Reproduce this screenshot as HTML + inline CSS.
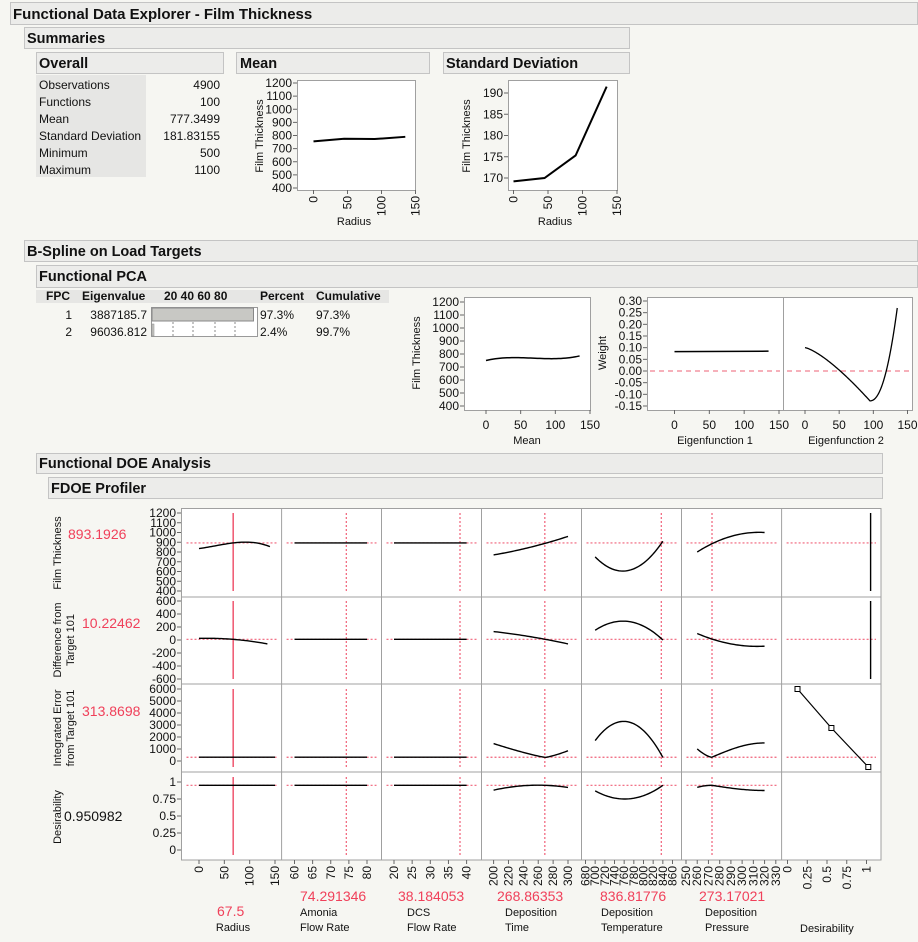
<!DOCTYPE html>
<html><head><meta charset="utf-8"><style>
html,body{margin:0;padding:0;background:#f6f6f2;}
svg{display:block;font-family:"Liberation Sans",sans-serif;}
</style></head><body>
<svg id="s" width="918" height="942" viewBox="0 0 918 942" xmlns="http://www.w3.org/2000/svg">
<rect width="918" height="942" fill="#f6f6f2"/>
<rect x="10.5" y="2.5" width="907" height="22" fill="#ececea" stroke="#c4c4c4"/>
<text x="13" y="19" font-size="15" font-weight="bold" fill="#111">Functional Data Explorer - Film Thickness</text>
<rect x="24.5" y="27.5" width="605" height="21" fill="#ececea" stroke="#c4c4c4"/>
<text x="27" y="43" font-size="14.5" font-weight="bold" fill="#111">Summaries</text>
<rect x="36.5" y="52.5" width="187" height="21" fill="#ececea" stroke="#c4c4c4"/>
<text x="39" y="68" font-size="14.5" font-weight="bold" fill="#111">Overall</text>
<rect x="236.5" y="52.5" width="193" height="21" fill="#ececea" stroke="#c4c4c4"/>
<text x="240" y="68" font-size="14.5" font-weight="bold" fill="#111">Mean</text>
<rect x="443.5" y="52.5" width="186" height="21" fill="#ececea" stroke="#c4c4c4"/>
<text x="446" y="68" font-size="14.5" font-weight="bold" fill="#111">Standard Deviation</text>
<rect x="36" y="75" width="110" height="102" fill="#e6e6e4"/>
<g font-size="12" fill="#111">
<text x="39" y="89">Observations</text><text x="220" y="89" text-anchor="end">4900</text>
<text x="39" y="106">Functions</text><text x="220" y="106" text-anchor="end">100</text>
<text x="39" y="123">Mean</text><text x="220" y="123" text-anchor="end">777.3499</text>
<text x="39" y="140">Standard Deviation</text><text x="220" y="140" text-anchor="end">181.83155</text>
<text x="39" y="157">Minimum</text><text x="220" y="157" text-anchor="end">500</text>
<text x="39" y="174">Maximum</text><text x="220" y="174" text-anchor="end">1100</text>
</g>
<rect x="24.5" y="240.5" width="893" height="21" fill="#ececea" stroke="#c4c4c4"/>
<text x="27" y="256" font-size="14.5" font-weight="bold" fill="#111">B-Spline on Load Targets</text>
<rect x="36.5" y="265.5" width="881" height="22" fill="#ececea" stroke="#c4c4c4"/>
<text x="39" y="281" font-size="14.5" font-weight="bold" fill="#111">Functional PCA</text>
<rect x="36" y="290" width="353" height="13" fill="#e6e6e4"/>
<g font-size="12" fill="#111">
<text x="46" y="300" font-weight="bold">FPC</text>
<text x="82" y="300" font-weight="bold">Eigenvalue</text>
<text x="164" y="300" font-weight="bold">20 40 60 80</text>
<text x="260" y="300" font-weight="bold">Percent</text>
<text x="316" y="300" font-weight="bold">Cumulative</text>
<text x="72" y="319" text-anchor="end">1</text><text x="147" y="319" text-anchor="end">3887185.7</text>
<text x="72" y="336" text-anchor="end">2</text><text x="147" y="336" text-anchor="end">96036.812</text>
<text x="260" y="319">97.3%</text><text x="316" y="319">97.3%</text>
<text x="260" y="336">2.4%</text><text x="316" y="336">99.7%</text>
</g>
<rect x="151.5" y="307.5" width="106" height="29" fill="#fff" stroke="#999"/>
<rect x="152" y="308" width="101.5" height="13" fill="#c8c8c4" stroke="#888"/>
<rect x="152" y="324" width="2" height="12" fill="#c8c8c4" stroke="#888" stroke-width="0.5"/>
<g stroke="#888" stroke-dasharray="2,2"><line x1="173" y1="322" x2="173" y2="336"/><line x1="193" y1="322" x2="193" y2="336"/><line x1="215" y1="322" x2="215" y2="336"/><line x1="235" y1="322" x2="235" y2="336"/></g>
<rect x="36.5" y="453.5" width="846" height="20" fill="#ececea" stroke="#c4c4c4"/>
<text x="39" y="468" font-size="14.5" font-weight="bold" fill="#111">Functional DOE Analysis</text>
<rect x="48.5" y="477.5" width="834" height="21" fill="#ececea" stroke="#c4c4c4"/>
<text x="51" y="493" font-size="14.5" font-weight="bold" fill="#111">FDOE Profiler</text>
<g id="g"></g>
<g font-size="11" fill="#111">
<text transform="translate(263,136) rotate(-90)" text-anchor="middle">Film Thickness</text>
<text x="354" y="225" text-anchor="middle">Radius</text>
<text transform="translate(470,136) rotate(-90)" text-anchor="middle">Film Thickness</text>
<text x="555" y="225" text-anchor="middle">Radius</text>
<text transform="translate(420,353) rotate(-90)" text-anchor="middle">Film Thickness</text>
<text x="527" y="444" text-anchor="middle">Mean</text>
<text transform="translate(606,353) rotate(-90)" text-anchor="middle">Weight</text>
<text x="715" y="444" text-anchor="middle">Eigenfunction 1</text>
<text x="846" y="444" text-anchor="middle">Eigenfunction 2</text>
<text transform="translate(61,553) rotate(-90)" text-anchor="middle">Film Thickness</text>
<text transform="translate(61,640) rotate(-90)" text-anchor="middle">Difference from</text>
<text transform="translate(74,640) rotate(-90)" text-anchor="middle">Target 101</text>
<text transform="translate(61,728) rotate(-90)" text-anchor="middle">Integrated Error</text>
<text transform="translate(74,728) rotate(-90)" text-anchor="middle">from Target 101</text>
<text transform="translate(61,817) rotate(-90)" text-anchor="middle">Desirability</text>
<text x="233" y="931" text-anchor="middle">Radius</text>
<text x="300" y="916">Amonia</text><text x="300" y="931">Flow Rate</text>
<text x="407" y="916">DCS</text><text x="407" y="931">Flow Rate</text>
<text x="505" y="916">Deposition</text><text x="505" y="931">Time</text>
<text x="601" y="916">Deposition</text><text x="601" y="931">Temperature</text>
<text x="705" y="916">Deposition</text><text x="705" y="931">Pressure</text>
<text x="800" y="932">Desirability</text>
</g>
<g font-size="14" fill="#f0405a">
<text x="68" y="539">893.1926</text>
<text x="82" y="628">10.22462</text>
<text x="82" y="716">313.8698</text>
<text x="217" y="916">67.5</text>
<text x="300" y="901">74.291346</text>
<text x="398" y="901">38.184053</text>
<text x="497" y="901">268.86353</text>
<text x="600" y="901">836.81776</text>
<text x="699" y="901">273.17021</text>
</g>
<text x="64" y="821" font-size="14" fill="#111">0.950982</text>
</svg>
<script>
const g=document.getElementById('g');const NS='http://www.w3.org/2000/svg';
function el(t,a,txt){const e=document.createElementNS(NS,t);for(const k in a)e.setAttribute(k,a[k]);if(txt!==undefined)e.textContent=txt;g.appendChild(e);return e;}
function L(x1,y1,x2,y2,c,w,d){const a={x1,y1,x2,y2,stroke:c||'#000','stroke-width':w||1};if(d)a['stroke-dasharray']=d;el('line',a);}
function T(x,y,s,o){o=o||{};const a={x,y,'font-size':o.fs||12,fill:o.c||'#111','text-anchor':o.a||'start'};if(o.r)a.transform='rotate(-90 '+x+' '+y+')';el('text',a,s);}
function map(d0,d1,p0,p1){return v=>p0+(v-d0)/(d1-d0)*(p1-p0);}
function lag(pts){return x=>{let s=0;for(let i=0;i<pts.length;i++){let t=pts[i][1];for(let j=0;j<pts.length;j++)if(j!=i)t*=(x-pts[j][0])/(pts[i][0]-pts[j][0]);s+=t;}return s;};}
function curve(pts,fx,fy,w,c){const f=lag(pts);const a=pts[0][0],b=pts[pts.length-1][0];let d='';for(let i=0;i<=40;i++){const x=a+(b-a)*i/40;d+=(i?'L':'M')+fx(x).toFixed(2)+','+fy(f(x)).toFixed(2);}el('path',{d,fill:'none',stroke:c||'#000','stroke-width':w||1.3});}
function frame(x0,y0,x1,y1){el('rect',{x:x0+.5,y:y0+.5,width:x1-x0,height:y1-y0,fill:'#fff',stroke:'#a0a0a0'});}
function yt(x,vals,fy,fmt){vals.forEach(v=>{const y=fy(v);L(x-4,y,x,y,'#666');T(x-5,y+4,fmt?fmt(v):v,{a:'end'});});}
function xtr(y,vals,fx,fmt,top){vals.forEach(v=>{const x=fx(v);L(x,y,x,y+4,'#666');T(x+4,top,fmt?fmt(v):v,{a:'end',r:1});});}
frame(297,80,415,190);
let fy=map(400,1200,188,83),fx=map(0,150,313.5,415.5);
yt(297,[400,500,600,700,800,900,1000,1100,1200],fy);
xtr(190,[0,50,100,150],fx,null,196);
el('polyline',{points:[[0,755],[45,775],[90,773],[135,790]].map(p=>fx(p[0])+','+fy(p[1])).join(' '),fill:'none',stroke:'#000','stroke-width':2});
frame(508,80,617,190);
fy=map(170,190,178,93);fx=map(0,150,513.5,617);
yt(508,[170,175,180,185,190],fy);
xtr(190,[0,50,100,150],fx,null,196);
el('polyline',{points:[[0,169.2],[45,170],[90,175.3],[135,191.5]].map(p=>fx(p[0])+','+fy(p[1])).join(' '),fill:'none',stroke:'#000','stroke-width':2});
frame(464,297,590,410);
fy=map(400,1200,406,302);fx=map(0,150,486,590);
yt(464,[400,500,600,700,800,900,1000,1100,1200],fy);
[0,50,100,150].forEach(v=>{L(fx(v),410,fx(v),414,'#666');T(fx(v),429,v,{a:'middle'});});
curve([[0,750],[45,772],[105,765],[135,785]],fx,fy,1.5);
frame(647,297,912,410);L(783.5,297,783.5,410,'#a0a0a0');
fy=map(-0.15,0.30,406,301);
yt(647,[-0.15,-0.10,-0.05,0,0.05,0.10,0.15,0.20,0.25,0.30],fy,v=>v.toFixed(2));
let f1=map(0,150,674.5,779),f2=map(0,150,805,907.5);
[0,50,100,150].forEach(v=>{L(f1(v),410,f1(v),414,'#666');T(f1(v),429,v,{a:'middle'});L(f2(v),410,f2(v),414,'#666');T(f2(v),429,v,{a:'middle'});});
L(650,fy(0),780,fy(0),'#f08090',1.3,'5,4');L(787,fy(0),910,fy(0),'#f08090',1.3,'5,4');
L(f1(0),fy(0.083),f1(135),fy(0.085),'#000',1.5);
(function(){const pts=[];for(let x=0;x<=135;x+=1){let y;if(x<=95){y=0.10-0.228*Math.pow(x/95,1.35);}else{const t=(x-95)/40;y=-0.128+0.398*Math.pow(t,2.2);}pts.push(f2(x).toFixed(2)+','+fy(y).toFixed(2));}
el('polyline',{points:pts.join(' '),fill:'none',stroke:'#000','stroke-width':1.3});})();
const CX=[181.5,281.6,381.5,481.5,581.5,681.5,781.6,881];
const RY=[508,597,684,772,860];
el('rect',{x:181.5,y:508.5,width:699.5,height:351.5,fill:'#fff',stroke:'#a0a0a0'});
CX.slice(1,7).forEach(x=>L(x,508,x,860,'#a0a0a0'));
RY.slice(1,4).forEach(y=>L(181,y,881,y,'#a0a0a0'));
const cols=[[0,150,199,275],[60,80,294.5,367],[20,40,394,466.6],[200,300,493.6,568],[680,860,585.5,672.5],[250,330,686,775.8],[0,1,787.5,866.5]];
const fxs=cols.map(c=>map(c[0],c[1],c[2],c[3]));
const rows=[[400,1200,591,513],[-600,600,679,601],[0,6000,761,689],[0,1,850,782]];
const fys=rows.map(r=>map(r[0],r[1],r[2],r[3]));
const refY=[893.19,10.22,313.87,0.951],refX=[67.5,74.291,38.184,268.86,836.82,273.17];
const red='#f06078';
yt(181,[400,500,600,700,800,900,1000,1100,1200],fys[0]);
yt(181,[-600,-400,-200,0,200,400,600],fys[1]);
yt(181,[0,1000,2000,3000,4000,5000,6000],fys[2]);
yt(181,[0,0.25,0.5,0.75,1],fys[3]);
const xt=[[0,50,100,150],[60,65,70,75,80],[20,25,30,35,40],[200,220,240,260,280,300],[680,700,720,740,760,780,800,820,840,860],[250,260,270,280,290,300,310,320,330],[0,0.25,0.5,0.75,1]];
xt.forEach((vs,i)=>xtr(860,vs,fxs[i],null,866));
for(let r=0;r<4;r++){for(let c=0;c<7;c++){if(r==3&&c==6)continue;const y=fys[r](refY[r]);L(CX[c]+5,y,CX[c+1]-5,y,red,1.2,'2,2');}
 const yt0=rows[r][3],yb=rows[r][2];const t=r==3?777:(r==2?689:yt0),b=r==3?855:(r==2?767:yb);
 for(let c=0;c<6;c++){const x=fxs[c](refX[c]);if(c==0)L(x,t,x,b,red,1.6);else L(x,t,x,b,red,1.2,'2,2');}}
const C=[
[[[0,835],[67.5,893],[100,900],[140,855]],[[60,893],[80,893]],[[20,893],[40,893]],[[200,770],[250,850],[300,960]],[[700,750],[760,605],[840,910]],[[260,800],[290,960],[320,1000]]],
[[[0,25],[67.5,10],[135,-60]],[[60,10],[80,10]],[[20,10],[40,10]],[[200,130],[250,50],[300,-60]],[[700,150],[760,290],[840,0]],[[260,100],[290,-60],[320,-95]]],
[[[0,314],[150,314]],[[60,314],[80,314]],[[20,314],[40,314]],null,[[700,1700],[760,3300],[840,300]],null],
[[[0,0.951],[150,0.951]],[[60,0.951],[80,0.951]],[[20,0.951],[40,0.951]],[[200,0.88],[270,0.951],[300,0.92]],[[700,0.87],[760,0.75],[840,0.951]],null]];
C.forEach((row,r)=>row.forEach((p,c)=>{if(p)curve(p,fxs[c],fys[r],1.4);}));
function pl(pts,fx,fy){el('polyline',{points:pts.map(p=>fx(p[0]).toFixed(2)+','+fy(p[1]).toFixed(2)).join(' '),fill:'none',stroke:'#000','stroke-width':1.4});}
(function(){let a=[];for(let x=200;x<=300;x+=2){let y=x<=270?1450-1150*(1-Math.pow((270-x)/70,1.2)):314+540*Math.pow((x-270)/30,1.3);a.push([x,y]);}pl(a,fxs[3],fys[2]);
a=[];for(let x=260;x<=320;x+=1){let y=x<=273?314+690*Math.pow((273-x)/13,1.5):314+1190*Math.sin(Math.PI/2*(x-273)/47);a.push([x,y]);}pl(a,fxs[5],fys[2]);
a=[];for(let x=260;x<=320;x+=1){let y=x<=273?0.951-0.03*Math.pow((273-x)/13,2):0.951-0.076*Math.sin(Math.PI/2*(x-273)/47);a.push([x,y]);}pl(a,fxs[5],fys[3]);})();
L(870.6,513,870.6,591,'#000',1.4);L(870.6,601,870.6,679,'#000',1.4);
el('polyline',{points:'797.5,689 831.4,728 868.3,767',fill:'none',stroke:'#000','stroke-width':1.2});
[[797.5,689],[831.4,728],[868.3,767]].forEach(p=>el('rect',{x:p[0]-2.5,y:p[1]-2.5,width:5,height:5,fill:'#fff',stroke:'#000'}));
</script>
</body></html>
